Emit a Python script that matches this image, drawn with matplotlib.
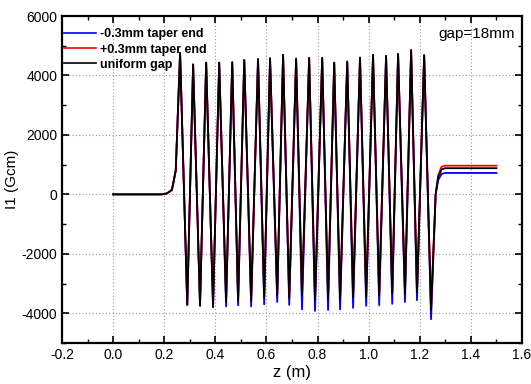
import matplotlib
matplotlib.use("Agg")
import matplotlib.pyplot as plt
from matplotlib.ticker import MultipleLocator

plt.rcParams['font.family'] = ['Liberation Sans', 'DejaVu Sans']

# entrance (before first peak)
z_start = [0.0, 0.19, 0.21, 0.23, 0.245]
i_start = [0, 0, 30, 150, 800]

# peak positions (z, m) and values
z_peaks = [0.262, 0.313, 0.364, 0.415, 0.466, 0.513, 0.567, 0.614, 0.665, 0.716,
           0.767, 0.818, 0.865, 0.916, 0.966, 1.017, 1.068, 1.115, 1.166, 1.217]
peaks = [4760, 4370, 4430, 4430, 4440, 4520, 4550, 4575, 4690, 4565,
         4590, 4590, 4430, 4465, 4600, 4690, 4655, 4720, 4850, 4680]

# trough positions (z, m)
z_troughs = [0.290, 0.340, 0.391, 0.442, 0.489, 0.540, 0.591, 0.642, 0.689, 0.739,
             0.790, 0.841, 0.888, 0.939, 0.990, 1.041, 1.092, 1.142, 1.189, 1.244]
troughs_minus = [-3720, -3750, -3800, -3770, -3730, -3770, -3700, -3620, -3720, -3870,
                 -3920, -3890, -3870, -3820, -3750, -3730, -3680, -3620, -3560, -4200]
troughs_plus = [-3700, -3720, -3760, -3580, -3550, -3550, -3450, -3350, -3450, -3360,
                -3500, -3460, -3500, -3400, -3400, -3340, -3280, -3280, -3250, -3850]
troughs_unif = [-3720, -3740, -3780, -3610, -3580, -3580, -3490, -3390, -3490, -3400,
                -3550, -3500, -3550, -3450, -3450, -3390, -3330, -3330, -3300, -3890]

# exit (after last trough)
z_end = [1.262, 1.272, 1.285, 1.30, 1.50]
end_minus = [0, 480, 690, 720, 720]
end_plus = [0, 650, 930, 965, 965]
end_unif = [0, 580, 840, 880, 880]

labels = ['-0.3mm taper end', '+0.3mm taper end', 'uniform gap']
colors = ['#0000ff', '#ff0000', '#000000']


def build(troughs, end_vals):
    z = list(z_start)
    v = list(i_start)
    for zp, p, zt, t in zip(z_peaks, peaks, z_troughs, troughs):
        z += [zp, zt]
        v += [p, t]
    z += z_end
    v += end_vals
    return z, v


fig = plt.figure(figsize=(5.31, 3.84), dpi=100)
ax = fig.add_axes([0.1168, 0.1068, 0.9831 - 0.1168, 0.9583 - 0.1068])

for tr, ev, lab, c in zip([troughs_minus, troughs_plus, troughs_unif],
                          [end_minus, end_plus, end_unif], labels, colors):
    z, v = build(tr, ev)
    ax.plot(z, v, color=c, lw=1.3, label=lab)

ax.set_xlim(-0.2, 1.6)
ax.set_ylim(-5000, 6000)
ax.xaxis.set_minor_locator(MultipleLocator(0.1))
ax.yaxis.set_minor_locator(MultipleLocator(1000))
ax.set_xticks([-0.2, 0.0, 0.2, 0.4, 0.6, 0.8, 1.0, 1.2, 1.4, 1.6])
ax.set_xticklabels(['-0.2', '0.0', '0.2', '0.4', '0.6', '0.8', '1.0', '1.2', '1.4', '1.6'])
ax.set_yticks([-4000, -2000, 0, 2000, 4000, 6000])
ax.set_yticklabels(['-4000', '-2000', '0', '2000', '4000', '6000'])

ax.tick_params(which='both', direction='in', top=True, right=True, labelsize=10)
ax.tick_params(which='major', length=5, width=1.2)
ax.tick_params(which='minor', length=3, width=1.0)
for s in ax.spines.values():
    s.set_linewidth(1.6)

ax.grid(True, which='major', linestyle=(0, (1, 2)), color='#999999', lw=0.8)
ax.set_axisbelow(True)

ax.set_xlabel('z (m)', fontsize=12, labelpad=2)
ax.set_ylabel('I1 (Gcm)', fontsize=11, labelpad=2)

leg = ax.legend(loc='upper left', bbox_to_anchor=(0.004, 0.962), frameon=False,
                prop={'weight': 'bold', 'size': 9},
                handlelength=2.56, handletextpad=0.3, labelspacing=0.25,
                borderaxespad=0.0, borderpad=0.0)
for h in leg.get_lines():
    h.set_linewidth(1.2)

ax.text(0.985, 0.965, 'gap=18mm', transform=ax.transAxes, ha='right', va='top',
        fontsize=11)

fig.savefig('out.png', dpi=100, facecolor='white')
